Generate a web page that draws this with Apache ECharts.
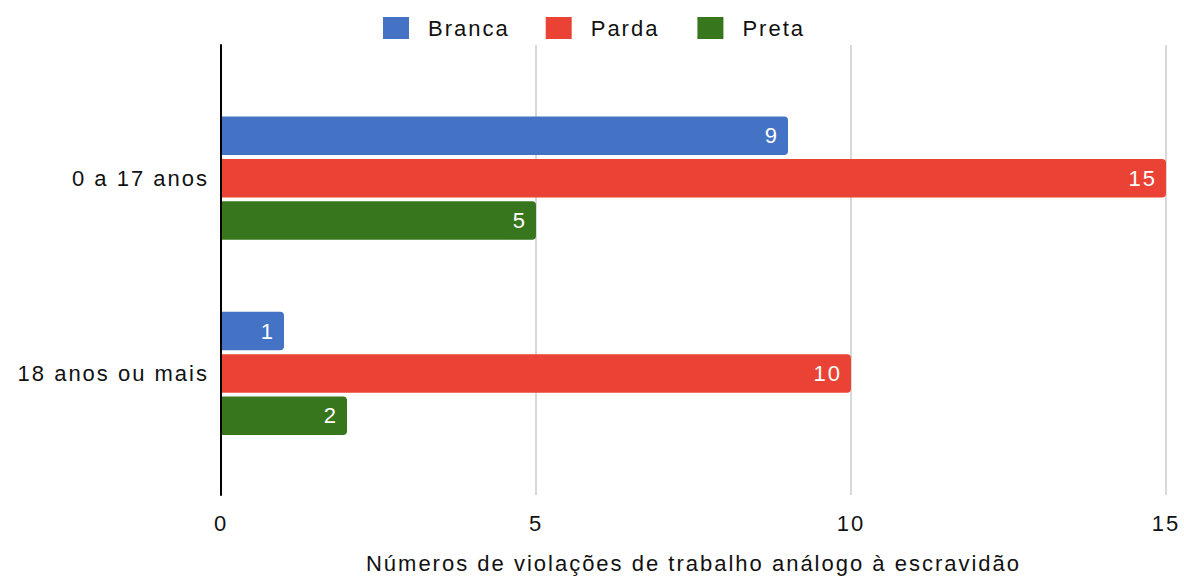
<!DOCTYPE html>
<html>
<head>
<meta charset="utf-8">
<script src="https://cdn.jsdelivr.net/npm/echarts@6/dist/echarts.min.js"></script>
<style>
  html, body { margin: 0; padding: 0; background: #fff; }
  #chart { width: 1184px; height: 579px; }
  /* slightly loose tracking on every label */
  #chart text { letter-spacing: 2px; }
</style>
</head>
<body>
<div id="chart"></div>
<script>
// Age groups (top to bottom) and counts per colour/race group
const categories = ['0 a 17 anos', '18 anos ou mais'];
const seriesNames = ['Branca', 'Parda', 'Preta'];
const branca = [9, 1];
const parda = [15, 10];
const preta = [5, 2];
const xTickValues = [0, 5, 10, 15];
const axisTitle = 'Números de violações de trabalho análogo à escravidão';

const colors = ['#4472c4', '#ea4335', '#38761d'];
const FONT = '"Liberation Sans", Arial, sans-serif';
const TEXT = '#111111';
const FS = 22;

const xMin = xTickValues[0];
const xMax = xTickValues[xTickValues.length - 1];
const xStep = xTickValues[1] - xTickValues[0];

const seriesData = [branca, parda, preta];

const chart = echarts.init(document.getElementById('chart'), null, { renderer: 'svg' });

const option = {
  animation: false,
  backgroundColor: '#ffffff',
  color: colors,
  textStyle: { fontFamily: FONT },
  legend: {
    top: 12,
    left: 378,
    itemWidth: 26,
    itemHeight: 22,
    itemGap: 48,
    icon: 'rect',
    itemStyle: { borderRadius: 3 },
    data: seriesNames,
    textStyle: { fontFamily: FONT, fontSize: FS, color: TEXT, padding: [0, 0, 0, 14] }
  },
  grid: [
    // frame: gridlines, axis line, tick labels
    { left: 221, right: 18, top: 45, bottom: 76, containLabel: false },
    // bars
    { left: 221, right: 18, top: 80.5, bottom: 108, containLabel: false }
  ],
  xAxis: [
    {
      gridIndex: 0,
      type: 'value',
      min: xMin, max: xMax, interval: xStep,
      axisLine: { show: false },
      axisTick: { show: false },
      splitLine: { show: true, lineStyle: { color: '#cccccc', width: 1.5 } },
      axisLabel: { margin: 17, fontSize: FS, color: TEXT, fontFamily: FONT },
      name: axisTitle,
      nameLocation: 'middle',
      nameGap: 57,
      nameTextStyle: { fontSize: FS, color: TEXT, fontFamily: FONT }
    },
    {
      gridIndex: 1,
      type: 'value',
      min: xMin, max: xMax, interval: xStep,
      show: false
    }
  ],
  yAxis: [
    {
      gridIndex: 0,
      type: 'category',
      data: categories,
      inverse: true,
      z: 10,
      axisLine: { show: true, lineStyle: { color: '#000000', width: 2 } },
      axisTick: { show: false },
      axisLabel: { show: false },
      splitLine: { show: false }
    },
    {
      gridIndex: 1,
      type: 'category',
      data: categories,
      inverse: true,
      axisLine: { show: false },
      axisTick: { show: false },
      splitLine: { show: false },
      axisLabel: { margin: 12, fontSize: FS, color: TEXT, fontFamily: FONT }
    }
  ],
  series: seriesNames.map((name, i) => ({
    name: name,
    type: 'bar',
    xAxisIndex: 1,
    yAxisIndex: 1,
    data: seriesData[i],
    barWidth: 38.5,
    barGap: '10%',
    itemStyle: { color: colors[i], borderRadius: [0, 4, 4, 0] },
    label: {
      show: true,
      position: 'insideRight',
      distance: 9,
      color: '#ffffff',
      fontSize: FS,
      fontFamily: FONT
    }
  }))
};

chart.setOption(option);
</script>
</body>
</html>
